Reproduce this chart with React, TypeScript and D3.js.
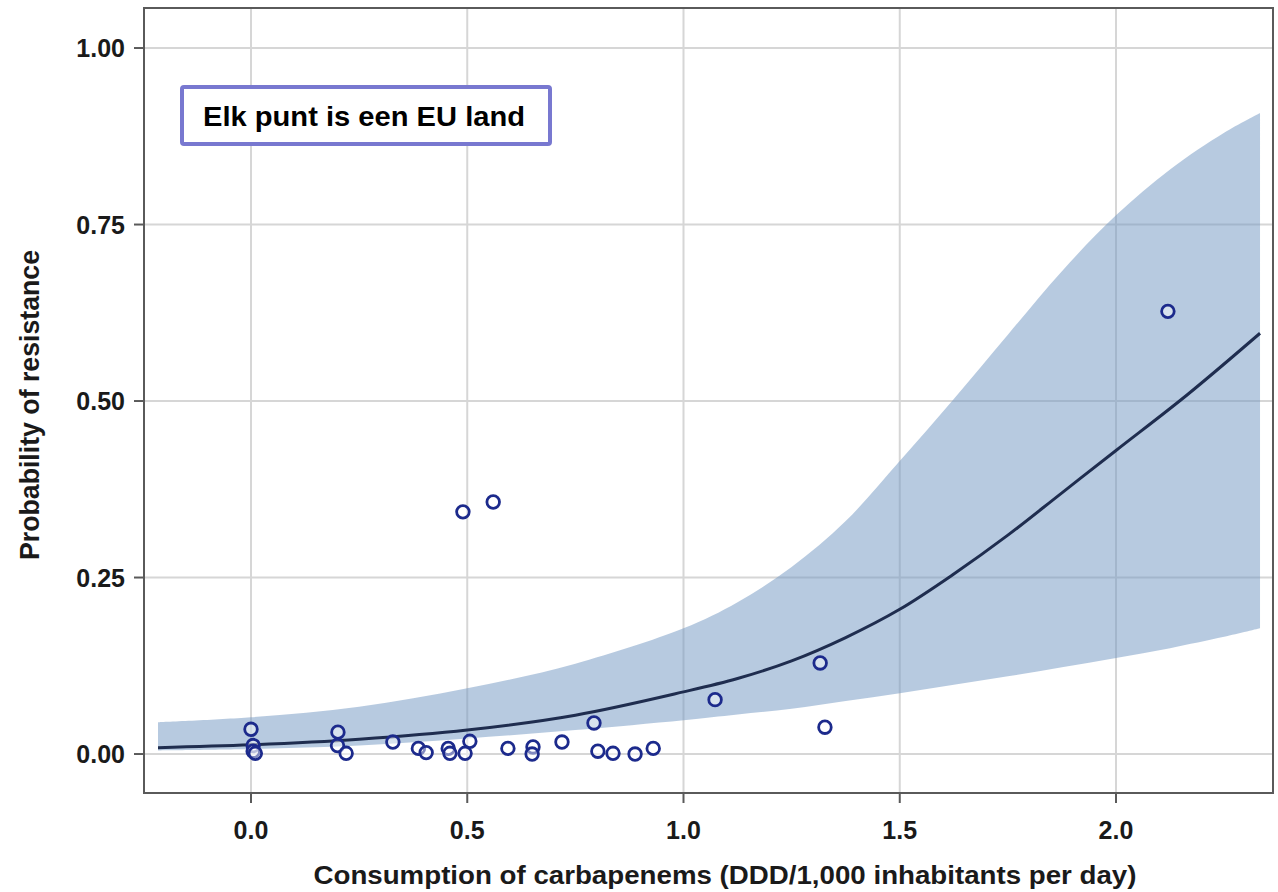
import React from "react";
import * as d3 from "d3";

// Fitted curve: x = consumption, p = probability
const curveX = [-0.215, 0, 0.25, 0.5, 0.75, 1.0, 1.125, 1.25, 1.375, 1.5, 1.625, 1.75, 1.875, 2.0, 2.167, 2.333];
const curveP = [0.009, 0.013, 0.021, 0.034, 0.055, 0.088, 0.107, 0.132, 0.165, 0.205, 0.255, 0.31, 0.37, 0.43, 0.51, 0.596];

// Confidence band
const bandX = [-0.215, 0, 0.25, 0.5, 0.75, 1.0, 1.125, 1.25, 1.375, 1.5, 1.625, 1.75, 1.875, 2.0, 2.125, 2.25, 2.333];
const bandUpper = [0.045, 0.052, 0.067, 0.093, 0.128, 0.178, 0.215, 0.265, 0.33, 0.415, 0.503, 0.594, 0.684, 0.763, 0.828, 0.88, 0.908];
const bandLower = [0.005, 0.007, 0.012, 0.022, 0.034, 0.048, 0.056, 0.064, 0.075, 0.086, 0.098, 0.11, 0.123, 0.136, 0.15, 0.166, 0.178];

// Countries (points)
const pointX = [0.0, 0.005, 0.005, 0.01, 0.201, 0.2, 0.22, 0.328, 0.387, 0.405, 0.456, 0.46, 0.506, 0.495, 0.594, 0.652, 0.65, 0.719, 0.793, 0.802, 0.837, 0.888, 0.93, 1.073, 1.327, 1.316, 2.12, 0.49, 0.56];
const pointP = [0.035, 0.012, 0.004, 0.001, 0.031, 0.012, 0.001, 0.017, 0.008, 0.002, 0.008, 0.001, 0.018, 0.001, 0.008, 0.01, 0.0, 0.017, 0.044, 0.004, 0.001, 0.0, 0.008, 0.077, 0.038, 0.129, 0.627, 0.343, 0.357];

const xTicks = [0, 0.5, 1.0, 1.5, 2.0];
const xTickLabels = ["0.0", "0.5", "1.0", "1.5", "2.0"];
const yTicks = [0, 0.25, 0.5, 0.75, 1.0];
const yTickLabels = ["0.00", "0.25", "0.50", "0.75", "1.00"];

const xTitle = "Consumption of carbapenems (DDD/1,000 inhabitants per day)";
const yTitle = "Probability of resistance";
const note = "Elk punt is een EU land";

export default function App() {
  const W = 1278, H = 892;
  const left = 144, right = 1273, top = 8, bottom = 793;
  const x = d3.scaleLinear().domain([-0.2474, 2.3630]).range([left, right]);
  const y = d3.scaleLinear().domain([-0.0552, 1.0567]).range([bottom, top]);

  const bandData = bandX.map((v, i) => ({ x: v, lo: bandLower[i], hi: bandUpper[i] }));
  const area = d3.area<any>()
    .x((d) => x(d.x))
    .y0((d) => y(d.lo))
    .y1((d) => y(d.hi))
    .curve(d3.curveCatmullRom.alpha(0.5));
  const lineData = curveX.map((v, i) => ({ x: v, p: curveP[i] }));
  const line = d3.line<any>()
    .x((d) => x(d.x))
    .y((d) => y(d.p))
    .curve(d3.curveCatmullRom.alpha(0.5));

  const font = "'Liberation Sans', Arial, Helvetica, sans-serif";

  return (
    <svg width={W} height={H} style={{ position: "absolute", left: 0, top: 0, background: "#fff" }}>
      <rect x={0} y={0} width={W} height={H} fill="#fff" />
      {/* grid */}
      {xTicks.map((t) => (
        <line key={"gx" + t} x1={x(t)} x2={x(t)} y1={top} y2={bottom} stroke="#d6d6d6" strokeWidth={2} />
      ))}
      {yTicks.map((t) => (
        <line key={"gy" + t} x1={left} x2={right} y1={y(t)} y2={y(t)} stroke="#d6d6d6" strokeWidth={2} />
      ))}
      {/* band */}
      <path d={area(bandData) || ""} fill="#6f96c2" fillOpacity={0.5} />
      {/* curve */}
      <path d={line(lineData) || ""} fill="none" stroke="#1f2d4f" strokeWidth={3} />
      {/* points */}
      {pointX.map((v, i) => (
        <circle key={"p" + i} cx={x(v)} cy={y(pointP[i])} r={6.3} fill="#ffffff" fillOpacity={0.45} stroke="#1c2a8c" strokeWidth={2.8} />
      ))}
      {/* frame */}
      <rect x={left} y={top} width={right - left} height={bottom - top} fill="none" stroke="#5a5a5a" strokeWidth={2} />
      {/* axes ticks */}
      {xTicks.map((t, i) => (
        <g key={"xt" + t}>
          <line x1={x(t)} x2={x(t)} y1={bottom} y2={bottom + 10} stroke="#5a5a5a" strokeWidth={2} />
          <text x={x(t)} y={839} textAnchor="middle" fontFamily={font} fontWeight="bold" fontSize={25} fill="#1a1a1a">
            {xTickLabels[i]}
          </text>
        </g>
      ))}
      {yTicks.map((t, i) => (
        <g key={"yt" + t}>
          <line x1={left - 10} x2={left} y1={y(t)} y2={y(t)} stroke="#5a5a5a" strokeWidth={2} />
          <text x={125} y={y(t) + 9} textAnchor="end" fontFamily={font} fontWeight="bold" fontSize={25} fill="#1a1a1a">
            {yTickLabels[i]}
          </text>
        </g>
      ))}
      {/* titles */}
      <text x={725} y={884} textAnchor="middle" fontFamily={font} fontWeight="bold" fontSize={25} fill="#1a1a1a"
        textLength={823} lengthAdjust="spacingAndGlyphs">
        {xTitle}
      </text>
      <text transform="translate(39,405) rotate(-90)" textAnchor="middle" fontFamily={font} fontWeight="bold" fontSize={27} fill="#1a1a1a"
        textLength={310} lengthAdjust="spacingAndGlyphs">
        {yTitle}
      </text>
      {/* annotation */}
      <rect x={182} y={87} width={368} height={57} rx={2} fill="#fff" stroke="#7878d0" strokeWidth={4} />
      <text x={364} y={126} textAnchor="middle" fontFamily={font} fontWeight="bold" fontSize={27} fill="#000"
        textLength={322} lengthAdjust="spacingAndGlyphs">
        {note}
      </text>
    </svg>
  );
}
